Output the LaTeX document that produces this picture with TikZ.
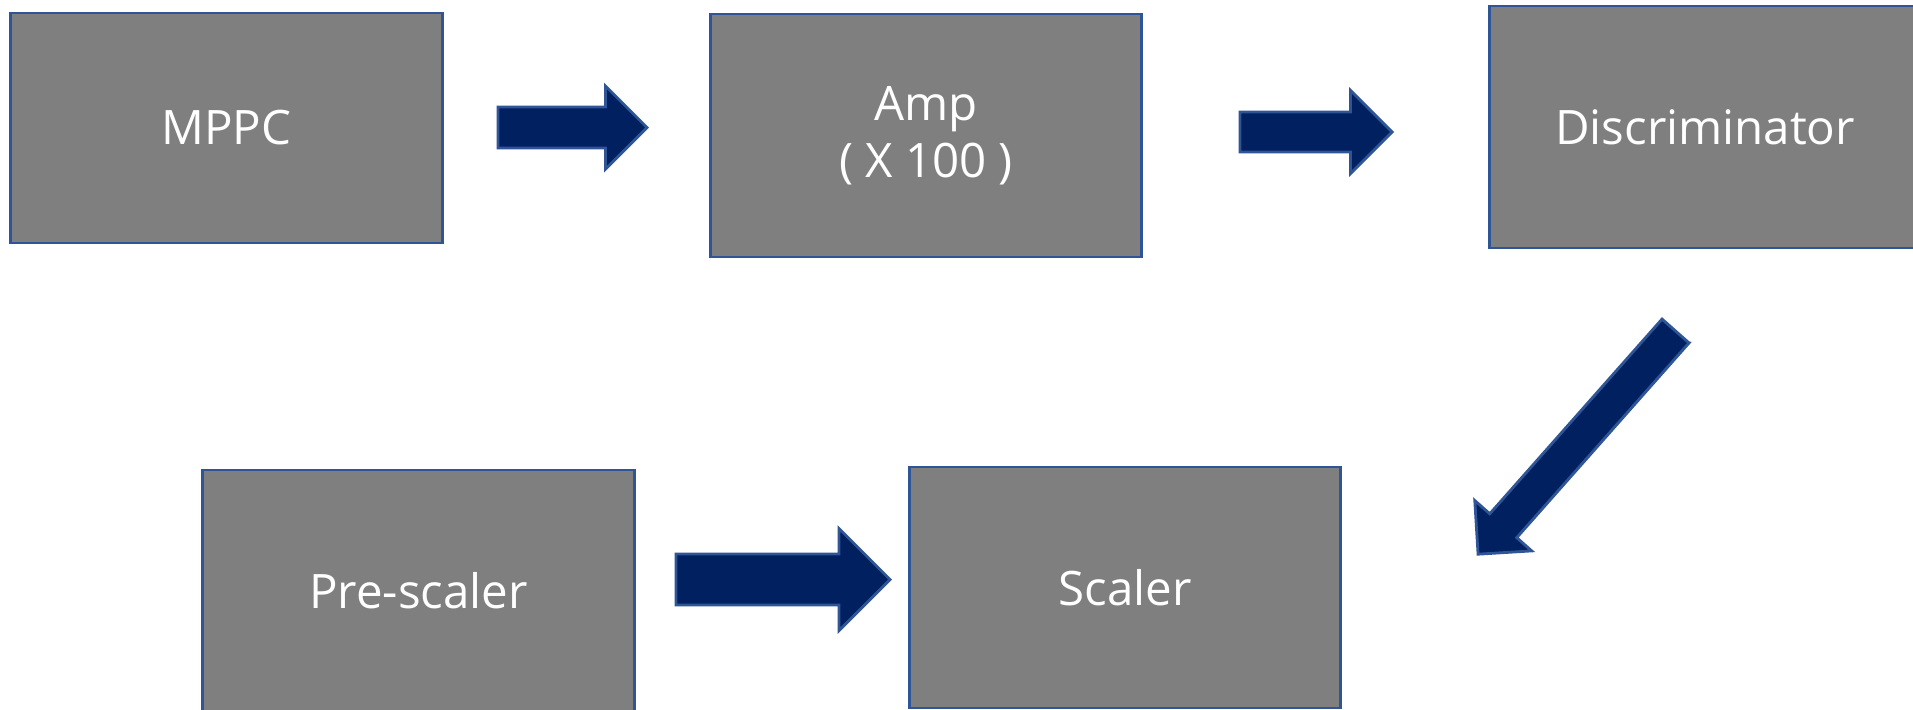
\documentclass[tikz,border=0pt]{standalone}
\usepackage{fontspec}
\setmainfont{Open Sans}
\usepackage{tikz}
\usetikzlibrary{calc}
\usetikzlibrary{positioning}

\definecolor{boxgray}{HTML}{7F7F7F}
\definecolor{boxedge}{HTML}{2F5597}
\definecolor{arrownavy}{HTML}{002060}

% tail, angle, length, half shaft, half head (= head length)
\newcommand{\blockarrow}[5]{%
	\begin{scope}[shift={(#1)}, rotate=#2]
		\draw[arrowbody] (0,-#4) to ({#3-#5},-#4) to ({#3-#5},-#5) to (#3,0) to ({#3-#5},#5) to ({#3-#5},#4) to (0,#4) to cycle;
	\end{scope}}

\begin{document}
\begin{tikzpicture}[
		x=0.01cm, y=-0.01cm,
		block/.style = {draw=boxedge, line width=0.8pt, fill=boxgray, rectangle, minimum width=4.31cm,
			text=white, align=center, font=\fontsize{13.5}{16.2}\selectfont},
		arrowbody/.style = {draw=boxedge, line width=0.8pt, fill=arrownavy, line join=miter}
		]

	\useasboundingbox (0,0) rectangle (1913,709);

	\node[block, minimum height=2.30cm] (mppc) at (226.5,128) {MPPC};
	\node[block, minimum height=2.43cm] (amp) at (926,135.5) {Amp\\( X 100 )};
	\node[block, minimum height=2.42cm] (disc) at (1705,127) {Discriminator};
	\node[block, minimum height=2.42cm] (pre) at (418.5,591) {Pre-scaler};
	\node[block, minimum height=2.41cm] (scaler) at (1125,587.5) {Scaler};

	\coordinate (a1) at (498,127.5);
	\coordinate (a2) at (1240,132);
	\coordinate (a3) at (1675.5,331);
	\coordinate (a4) at (676,579.5);

	\blockarrow{a1}{0}{149}{20.5}{41.5}
	\blockarrow{a2}{0}{152}{20}{41.5}
	\blockarrow{a3}{228.5}{298}{18}{38}
	\blockarrow{a4}{0}{214}{25.5}{51}
\end{tikzpicture}
\end{document}
